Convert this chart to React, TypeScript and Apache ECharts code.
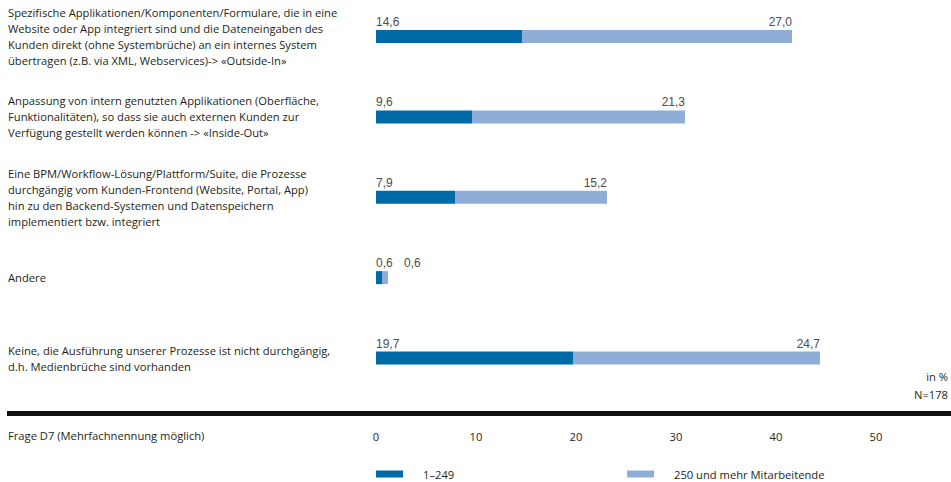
import React, { useEffect, useRef } from "react";
import * as echarts from "echarts";

const categories = [
  "Spezifische Applikationen/Komponenten/Formulare, die in eine\nWebsite oder App integriert sind und die Dateneingaben des\nKunden direkt (ohne Systembrüche) an ein internes System\nübertragen (z.B. via XML, Webservices)-> «Outside-In»",
  "Anpassung von intern genutzten Applikationen (Oberfläche,\nFunktionalitäten), so dass sie auch externen Kunden zur\nVerfügung gestellt werden können -> «Inside-Out»",
  "Eine BPM/Workflow-Lösung/Plattform/Suite, die Prozesse\ndurchgängig vom Kunden-Frontend (Website, Portal, App)\nhin zu den Backend-Systemen und Datenspeichern\nimplementiert bzw. integriert",
  "Andere",
  "Keine, die Ausführung unserer Prozesse ist nicht durchgängig,\nd.h. Medienbrüche sind vorhanden",
];
const seriesNames = ["1–249", "250 und mehr Mitarbeitende"];
const small = [14.6, 9.6, 7.9, 0.6, 19.7];
const large = [27.0, 21.3, 15.2, 0.6, 24.7];
const xTicks = [0, 10, 20, 30, 40, 50];

const DARK = "#006aa7";
const LIGHT = "#8eaed8";
const TEXT_FONT = "'Open Sans', Lato, sans-serif";
const NUM_FONT = "'Liberation Sans', Arial, sans-serif";
const TS = 11.2;

const fmt = (v: number) => v.toFixed(1).replace(".", ",");

export default function App() {
  const ref = useRef<HTMLDivElement>(null);
  useEffect(() => {
    document.body.style.margin = "0";
    if (!ref.current) return;
    const chart = echarts.init(ref.current, null, { renderer: "svg" });
    const labelBase = {
      show: true,
      fontFamily: NUM_FONT,
      fontSize: 12,
      color: "#4d4d4d",
      verticalAlign: "bottom",
      formatter: (p: any) => fmt(p.value),
    };
    const legendBase = {
      top: 468,
      padding: 0,
      icon: "rect",
      itemWidth: 27,
      itemHeight: 7,
      formatter: (name: string) => `{g|}{t|${name}}`,
      textStyle: {
        rich: {
          g: { width: 15 },
          t: { fontFamily: TEXT_FONT, fontSize: TS, color: "#231f20" },
        },
      },
    };
    chart.setOption({
      animation: false,
      grid: { left: 376, right: 75, top: 36.5, bottom: 124, containLabel: false },
      xAxis: {
        type: "value",
        min: xTicks[0],
        max: xTicks[xTicks.length - 1],
        interval: 10,
        splitLine: { show: false },
        axisLine: { show: false },
        axisTick: { show: false },
        axisLabel: {
          margin: 73,
          fontFamily: TEXT_FONT,
          fontSize: TS,
          color: "#231f20",
        },
      },
      yAxis: {
        type: "category",
        data: categories,
        inverse: true,
        boundaryGap: false,
        axisLine: { show: false },
        axisTick: { show: false },
        splitLine: { show: false },
        axisLabel: {
          align: "left",
          margin: 368,
          fontFamily: TEXT_FONT,
          fontSize: TS,
          lineHeight: 16,
          color: "#231f20",
        },
      },
      legend: [
        { ...legendBase, data: [seriesNames[0]], left: 376 },
        { ...legendBase, data: [seriesNames[1]], left: 627 },
      ],
      series: [
        {
          name: seriesNames[0],
          type: "bar",
          stack: "total",
          barWidth: 13,
          itemStyle: { color: DARK },
          label: { ...labelBase, position: [0, -2], align: "left" },
          data: small,
        },
        {
          name: seriesNames[1],
          type: "bar",
          stack: "total",
          barWidth: 13,
          itemStyle: { color: LIGHT },
          label: { ...labelBase, position: ["100%", -2], align: "right" },
          data: large.map((v) =>
            v < 2
              ? { value: v, label: { position: [22, -2], align: "left" } }
              : v
          ),
        },
      ],
      graphic: [
        {
          type: "rect",
          shape: { x: 7, y: 411, width: 944, height: 5 },
          style: { fill: "#111111" },
          silent: true,
        },
        {
          type: "text",
          right: 3,
          top: 371,
          style: { text: "in %", fontFamily: TEXT_FONT, fontSize: TS, fill: "#231f20", textAlign: "right" },
        },
        {
          type: "text",
          right: 3,
          top: 389,
          style: { text: "N=178", fontFamily: TEXT_FONT, fontSize: TS, fill: "#231f20", textAlign: "right" },
        },
        {
          type: "text",
          left: 8,
          top: 430,
          style: { text: "Frage D7 (Mehrfachnennung möglich)", fontFamily: TEXT_FONT, fontSize: TS, fill: "#231f20" },
        },
      ],
    });
    return () => chart.dispose();
  }, []);
  return <div ref={ref} style={{ width: 951, height: 482 }} />;
}
